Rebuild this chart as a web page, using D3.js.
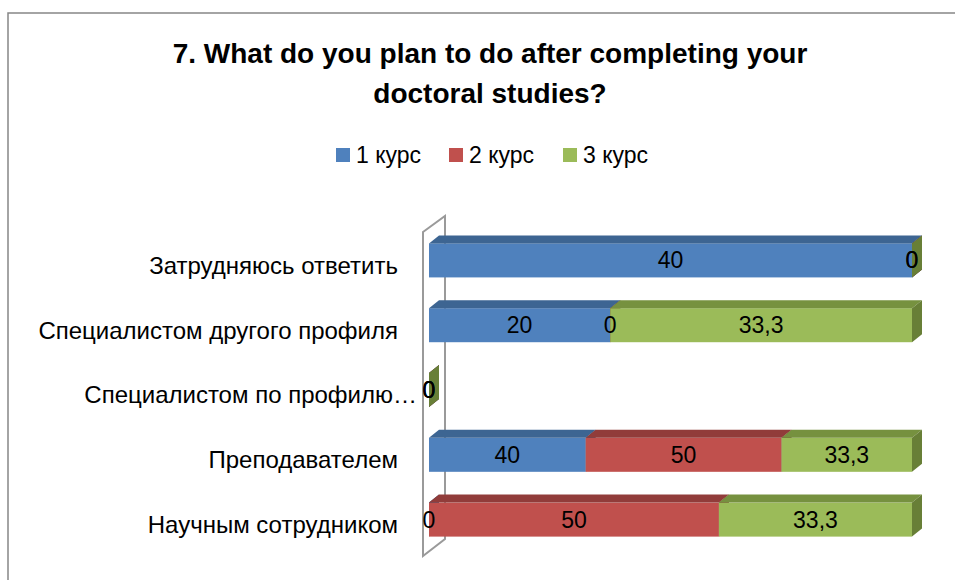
<!DOCTYPE html>
<html>
<head>
<meta charset="utf-8">
<script src="https://cdn.jsdelivr.net/npm/d3@7"></script>
<style>
  html, body { margin: 0; padding: 0; background: #fff; }
  svg { display: block; }
  text { font-family: "Liberation Sans", "Noto Sans", sans-serif; }
</style>
</head>
<body>
<script>
// ---- data ----
const categories = ["Затрудняюсь ответить", "Специалистом другого профиля", "Специалистом по профилю…", "Преподавателем", "Научным сотрудником"];
const seriesNames = ["1 курс", "2 курс", "3 курс"];
const kurs1 = [40, 20, 0, 40, 0];
const kurs2 = [0, 0, 0, 50, 50];
const kurs3 = [0, 33.3, 0, 33.3, 33.3];
const titleLines = ["7. What do you plan to do after completing your", "doctoral studies?"];

const colors = ["#4F81BD", "#C0504D", "#9BBB59"];
const topColors = ["#3D6592", "#913C3A", "#76913F"];
const sideColors = ["#355882", "#7F3533", "#687F37"];

const W = 955, H = 580;
const svg = d3.select("body").append("svg").attr("width", W).attr("height", H);

// border
svg.append("rect").attr("x", 8).attr("y", 13).attr("width", W + 10).attr("height", H + 10)
  .attr("fill", "#fff").attr("stroke", "#868686").attr("stroke-width", 1.5);

// title
svg.append("text").attr("x", 490).attr("y", 63).attr("text-anchor", "middle")
  .attr("font-size", 28).attr("font-weight", "bold").text(titleLines[0]);
svg.append("text").attr("x", 490).attr("y", 103).attr("text-anchor", "middle")
  .attr("font-size", 28).attr("font-weight", "bold").text(titleLines[1]);

// legend
const legendX = [336, 449, 563];
seriesNames.forEach((s, i) => {
  svg.append("rect").attr("x", legendX[i]).attr("y", 148).attr("width", 14).attr("height", 14).attr("fill", colors[i]);
  svg.append("text").attr("x", legendX[i] + 20).attr("y", 163).attr("font-size", 23).attr("fill", "#000").text(s);
});

// stacked percent data
const rows = categories.map((c, i) => ({ cat: c, v: [kurs1[i], kurs2[i], kurs3[i]] }));
const x = d3.scaleLinear().domain([0, 1]).range([429, 912]);
const y = d3.scaleBand().domain(categories).range([228, 552]).paddingInner(0.475).paddingOuter(0.2375);
const dx = 10, dy = 8;

// back wall
const wall = svg.append("g").attr("fill", "none").attr("stroke", "#9a9a9a").attr("stroke-width", 2);
wall.append("path").attr("d", "M423,232 L445,216 L445,539 L423,556 Z");

// category labels
categories.forEach(c => {
  svg.append("text").attr("x", c.endsWith("…") ? 417 : 398)
    .attr("y", y(c) + y.bandwidth() / 2 + 5).attr("dy", "0.35em")
    .attr("text-anchor", "end").attr("font-size", 24).text(c);
});

const fmt = v => String(v).replace(".", ",");
const labels = [];
rows.forEach(r => {
  const total = d3.sum(r.v);
  let acc = 0;
  const y0 = y(r.cat), bh = y.bandwidth();
  r.v.forEach((v, si) => {
    const f0 = total ? acc / total : 0;
    const f1 = total ? (acc + v) / total : 0;
    acc += v;
    const x0 = x(f0), x1 = x(f1);
    const g = svg.append("g");
    if (x1 > x0) {
      g.append("rect").attr("x", x0).attr("y", y0).attr("width", x1 - x0).attr("height", bh).attr("fill", colors[si]);
      g.append("path").attr("d", `M${x0},${y0} L${x0 + dx},${y0 - dy} L${x1 + dx},${y0 - dy} L${x1},${y0} Z`).attr("fill", topColors[si]);
    }
    g.append("path").attr("d", `M${x1},${y0} L${x1 + dx},${y0 - dy} L${x1 + dx},${y0 + bh - dy} L${x1},${y0 + bh} Z`).attr("fill", sideColors[si]);
    labels.push({ x: (x0 + x1) / 2, y: y0 + bh / 2, t: fmt(v) });
  });
});
labels.forEach(l => {
  svg.append("text").attr("x", l.x).attr("y", l.y).attr("dy", "0.35em").attr("text-anchor", "middle")
    .attr("font-size", 23).attr("fill", "#000").text(l.t);
});
</script>
</body>
</html>
